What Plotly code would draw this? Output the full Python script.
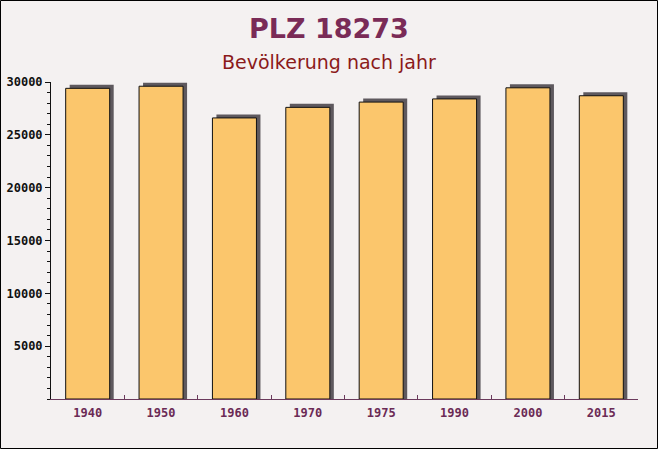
import plotly.graph_objects as go

years = ["1940", "1950", "1960", "1970", "1975", "1990", "2000", "2015"]
population = [29400, 29600, 26600, 27600, 28100, 28400, 29450, 28700]

W, H = 658, 449
L, R, T, B = 51, 20, 82, 50
pw, ph = W - L - R, H - T - B

# 3d-ish shadow: shift a few px up/right
y_range = 30000
shadow_dy = 3.5 * y_range / ph
shadow = [v + shadow_dy for v in population]

fig = go.Figure()
fig.add_trace(go.Bar(
    x=years, y=shadow, width=0.6, offset=-0.3 + 4 / (pw / len(years)),
    marker=dict(color="#5e595e", line=dict(width=0)),
    hoverinfo="skip", showlegend=False,
))
fig.add_trace(go.Bar(
    x=years, y=population, width=0.6, offset=-0.3,
    marker=dict(color="#fbc66c", line=dict(color="#111111", width=1)),
    showlegend=False,
))

fig.update_layout(
    width=W, height=H,
    margin=dict(l=L, r=R, t=T, b=B, autoexpand=False),
    paper_bgcolor="#f4f1f1",
    plot_bgcolor="rgba(0,0,0,0)",
    barmode="overlay",
    annotations=[
        dict(text="<b>PLZ 18273</b>", xref="paper", yref="paper", x=0.5 - (L - R) / 2 / pw,
             y=1 + (T - 29) / ph, xanchor="center", yanchor="middle", showarrow=False,
             font=dict(family="DejaVu Sans", size=27, color="#7a2b57")),
        dict(text="Bevölkerung nach jahr", xref="paper", yref="paper", x=0.5 - (L - R) / 2 / pw,
             y=1 + (T - 62) / ph, xanchor="center", yanchor="middle", showarrow=False,
             font=dict(family="DejaVu Sans", size=19, color="#8b1a1a")),
    ],
    shapes=[
        dict(type="rect", xref="paper", yref="paper",
             x0=(-L + 0.5) / pw, x1=1 + (R - 0.5) / pw,
             y0=(-B + 0.5) / ph, y1=1 + (T - 0.5) / ph,
             line=dict(color="#000000", width=1), fillcolor="rgba(0,0,0,0)"),
    ],
)

fig.update_xaxes(
    type="category", showgrid=False, automargin=False,
    showline=True, linecolor="#6b3a5c", linewidth=1,
    ticks="inside", tickson="boundaries", ticklen=4, tickcolor="#6b3a5c",
    ticklabelstandoff=3,
    tickfont=dict(family="DejaVu Sans Mono", size=12, color="#6b2a55", weight="bold"),
)
fig.update_yaxes(
    range=[0, y_range], showgrid=False, zeroline=False, automargin=False,
    showline=True, linecolor="#111111", linewidth=1,
    ticks="outside", ticklen=5, tickcolor="#111111",
    minor=dict(dtick=1000, ticks="outside", ticklen=3, tickcolor="#111111"),
    tickfont=dict(family="DejaVu Sans Mono", size=12, color="#111111", weight="bold"),
    tickvals=[5000, 10000, 15000, 20000, 25000, 30000], tickformat="d",
)

fig.write_html("out.html", config={"displayModeBar": False},
               post_script="document.body.style.margin='0';")
